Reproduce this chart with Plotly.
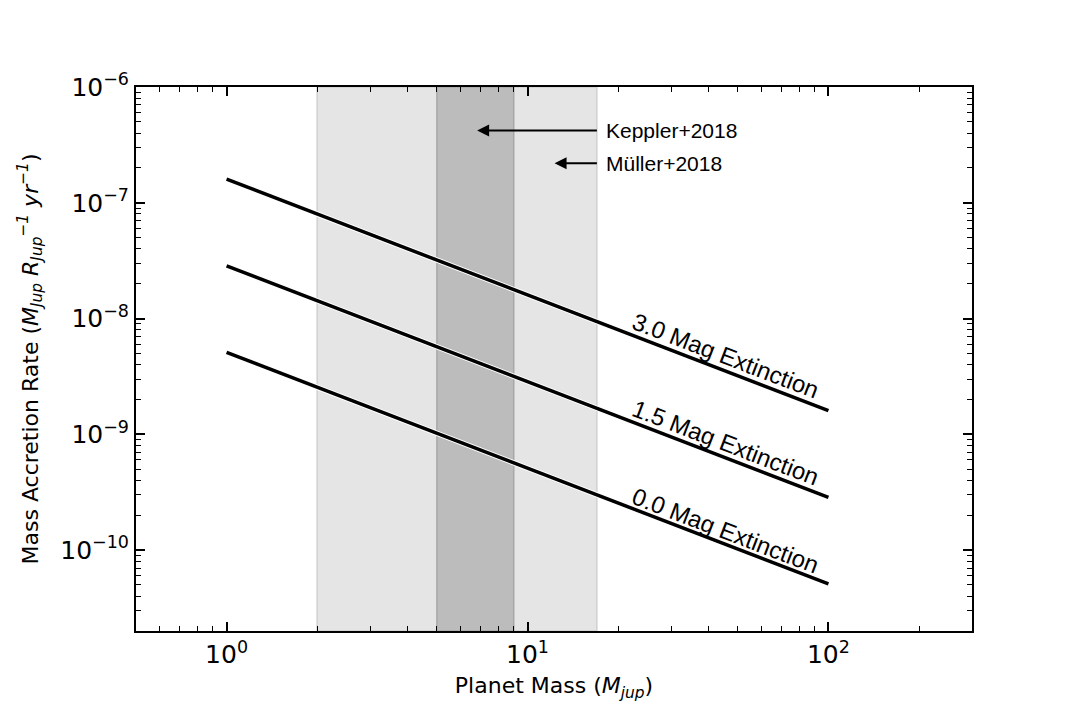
import math
import plotly.graph_objects as go

# planet mass grid endpoints (M_jup) and accretion rates for each extinction level
mass = [1, 100]
rate_3p0 = [1.6e-7, 1.6e-9]
rate_1p5 = [2.85e-8, 2.85e-10]
rate_0p0 = [5.1e-9, 5.1e-11]

line_labels = ["3.0 Mag Extinction", "1.5 Mag Extinction", "0.0 Mag Extinction"]
label_x = [45.5, 45.5, 45.5]
label_y = [4.8e-9, 8.5e-10, 1.49e-10]

# literature mass ranges
muller_range = [2, 17]
keppler_range = [5, 9]

x_range = [0.5, 300]
y_range = [2e-11, 1e-6]

fig = go.Figure()

# shaded mass ranges
for rng, fill, edge in [(muller_range, "#e5e5e5", "#d0d0d0"),
                        (keppler_range, "#bcbcbc", "#a8a8a8")]:
    fig.add_trace(go.Scatter(
        x=[rng[0], rng[1], rng[1], rng[0], rng[0]],
        y=[y_range[0], y_range[0], y_range[1], y_range[1], y_range[0]],
        mode="lines", fill="toself", fillcolor=fill,
        line=dict(color=edge, width=1.5), hoverinfo="skip", showlegend=False))

for rates in [rate_3p0, rate_1p5, rate_0p0]:
    fig.add_trace(go.Scatter(x=mass, y=rates, mode="lines",
                             line=dict(color="white", width=5.5),
                             hoverinfo="skip", showlegend=False))
    fig.add_trace(go.Scatter(x=mass, y=rates, mode="lines",
                             line=dict(color="black", width=3.5),
                             showlegend=False))

annotations = []
for txt, lx, ly in zip(line_labels, label_x, label_y):
    annotations.append(dict(x=math.log10(lx), y=math.log10(ly), xref="x", yref="y",
                            text=txt, showarrow=False, textangle=21,
                            font=dict(family="Liberation Sans, Arial", size=24, color="black")))

# arrows pointing at the two literature ranges
for txt, tip_x, tail_x, yv in [("Keppler+2018", 6.8, 17.2, 4.2e-7),
                               ("Müller+2018", 12.3, 17.2, 2.2e-7)]:
    annotations.append(dict(x=math.log10(tip_x), y=math.log10(yv), xref="x", yref="y",
                            ax=math.log10(tail_x), ay=math.log10(yv), axref="x", ayref="y",
                            text="", showarrow=True, arrowhead=2, arrowsize=1.2,
                            arrowwidth=2, arrowcolor="black"))
    annotations.append(dict(x=math.log10(tail_x) + 0.02, y=math.log10(yv), xref="x", yref="y",
                            text=txt, showarrow=False, xanchor="left",
                            font=dict(family="Liberation Sans, Arial", size=21, color="black")))

x_ticks = [1, 10, 100]
x_ticktext = ["10<sup>0</sup>", "10<sup>1</sup>", "10<sup>2</sup>"]
y_ticks = [1e-10, 1e-9, 1e-8, 1e-7, 1e-6]
y_ticktext = ["10<sup>−10</sup>", "10<sup>−9</sup>", "10<sup>−8</sup>",
              "10<sup>−7</sup>", "10<sup>−6</sup>"]
x_minor = [m * 10 ** d for d in range(-1, 3) for m in range(2, 10)]
y_minor = [m * 10 ** d for d in range(-11, -6) for m in range(2, 10)]

axis_common = dict(showline=True, linecolor="black", linewidth=2, mirror="allticks",
                   ticks="inside", ticklen=9, tickwidth=1.5, tickcolor="black",
                   showgrid=False, zeroline=False, automargin=False,
                   tickfont=dict(family="DejaVu Sans", size=25, color="black"))
minor_common = dict(ticks="inside", ticklen=5, tickwidth=1, tickcolor="black", showgrid=False)

fig.update_xaxes(type="log", range=[math.log10(x_range[0]), math.log10(x_range[1])],
                 tickvals=x_ticks, ticktext=x_ticktext,
                 minor=dict(tickmode="array", tickvals=x_minor, **minor_common),
                 title=dict(text="Planet Mass (<i>M<sub>jup</sub></i>)",
                            font=dict(family="DejaVu Sans", size=22, color="black"), standoff=10),
                 **axis_common)
fig.update_yaxes(type="log", range=[math.log10(y_range[0]), math.log10(y_range[1])],
                 tickvals=y_ticks, ticktext=y_ticktext,
                 minor=dict(tickmode="array", tickvals=y_minor, **minor_common),
                 title=dict(text="Mass Accretion Rate (<i>M<sub>Jup</sub> R<sub>Jup</sub><sup>−1</sup> yr<sup>−1</sup></i>)",
                            font=dict(family="DejaVu Sans", size=22, color="black"), standoff=16),
                 **axis_common)

fig.update_layout(width=1080, height=720, plot_bgcolor="white", paper_bgcolor="white",
                  margin=dict(l=128, r=116, t=79, b=97), annotations=annotations,
                  showlegend=False)

fig.write_html("out.html")
